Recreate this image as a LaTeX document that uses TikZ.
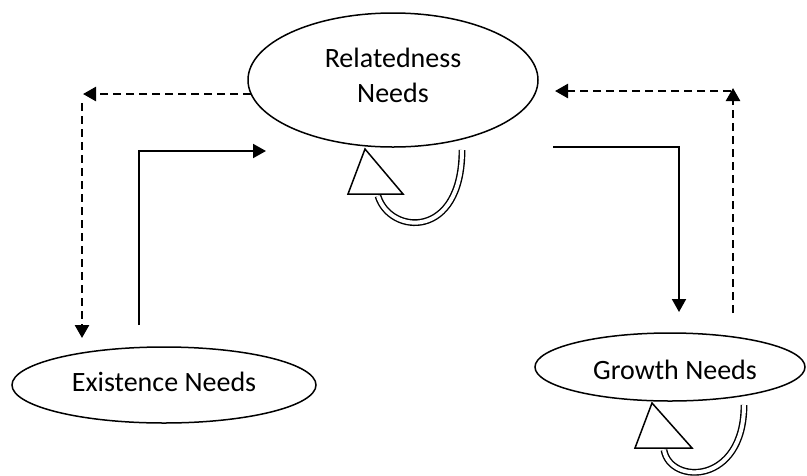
\documentclass[tikz,border=0pt]{standalone}
\usepackage{fontspec}
\setmainfont{Carlito}
\usetikzlibrary{arrows.meta,shapes.geometric}
\begin{document}
\begin{tikzpicture}[x=1pt,y=-1pt,
  need/.style={draw,ellipse,line width=1.5pt,inner sep=0pt},
  lbl/.style={font=\fontsize{28}{35}\selectfont,align=center,inner sep=0pt},
  solidarr/.style={line width=2pt,-{Triangle[length=13pt,width=14pt]}},
  dasharr/.style={line width=2.5pt,dash pattern=on 8pt off 5pt,-{Triangle[length=13pt,width=14pt]}},
  loopline/.style={double,double distance=4pt,line width=1.4pt},
  headtri/.style={draw,fill=white,line width=1.5pt,line join=miter}]
\useasboundingbox (0,0) rectangle (807,475);
% ellipses
\node[need,minimum width=290pt,minimum height=134pt] (R) at (393,80) {};
\node[lbl] (Rt) at (393,75) {Relatedness\\Needs};
\node[need,minimum width=304pt,minimum height=76pt] (E) at (164,385) {};
\node[lbl] (Et) at (164,382) {Existence Needs};
\node[need,minimum width=270pt,minimum height=68pt] (G) at (670,367) {};
\node[lbl] (Gt) at (675,370) {Growth Needs};
% connector points
\coordinate (r1) at (251,94);
\coordinate (c1) at (83,94);
\coordinate (c2) at (82,103);
\coordinate (e1) at (82,338);
\coordinate (e2) at (139,325);
\coordinate (c3) at (139,151);
\coordinate (r2) at (266,151);
\coordinate (r3) at (553,147);
\coordinate (c4) at (679,147);
\coordinate (g1) at (679,312);
\coordinate (g2) at (733,313);
\coordinate (c5) at (733,88);
\coordinate (c6) at (731,91);
\coordinate (r4) at (555,91);
% connectors
\draw[dasharr] (r1) -- (c1);
\draw[dasharr] (c2) -- (e1);
\draw[solidarr] (e2) -- (c3) -- (r2);
\draw[solidarr] (r3) -- (c4) -- (g1);
\draw[dasharr] (g2) -- (c5);
\draw[dasharr] (c6) -- (r4);
% self loop on Relatedness
\draw[loopline] (462,150) .. controls (462,240) and (390,235) .. (378,196);
\draw[headtri] (365,149) -- (403,194) -- (348,194) -- cycle;
% self loop on Growth
\draw[loopline] (744,405) .. controls (744,485) and (670,485) .. (664,450);
\draw[headtri] (652,403) -- (692,448) -- (635,448) -- cycle;
\end{tikzpicture}
\end{document}
